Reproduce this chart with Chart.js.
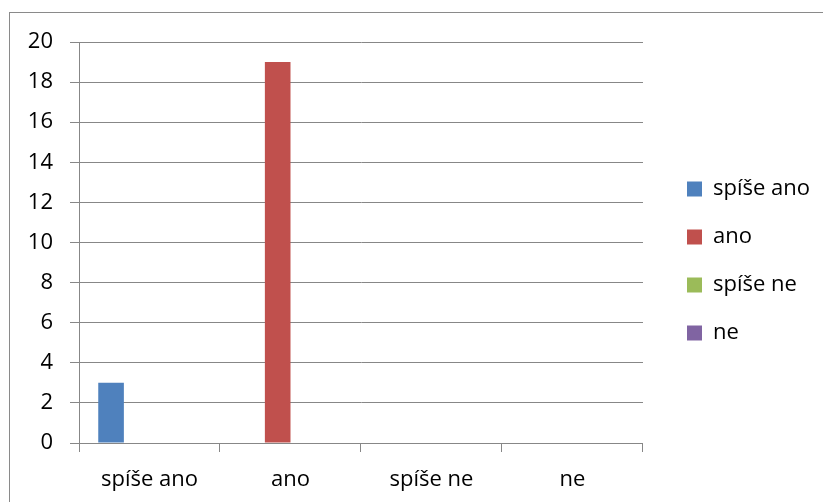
<!DOCTYPE html>
<html>
<head>
<meta charset="utf-8">
<script src="https://cdn.jsdelivr.net/npm/chart.js@4"></script>
<style>
  html, body { margin: 0; background: #fff; overflow: hidden; }
  #wrap { position: relative; width: 823px; height: 502px; overflow: hidden; }
  #frame { position: absolute; left: 9px; top: 12px; width: 900px; height: 600px;
           border-left: 1px solid #8a8a8a; border-top: 1px solid #8a8a8a; }
  canvas { position: absolute; left: 0; top: 0; }
</style>
</head>
<body>
<div id="wrap">
  <div id="frame"></div>
  <canvas id="graf" width="823" height="502"></canvas>
</div>
<script>
// kategorie a hodnoty (počet odpovědí)
const kategorie = ["spíše ano", "ano", "spíše ne", "ne"];
const spiseAno = [3, 0, 0, 0];
const ano = [0, 19, 0, 0];
const spiseNe = [0, 0, 0, 0];
const ne = [0, 0, 0, 0];
const osaY = [0, 2, 4, 6, 8, 10, 12, 14, 16, 18, 20];

const barvy = ["#4F81BD", "#C0504D", "#9BBB59", "#8064A2"];
const serie = [spiseAno, ano, spiseNe, ne];

const pismo = { family: "'Open Sans'", size: 22 };
const seda = "#878787";

function vykresli() {
  var ctx = document.getElementById("graf");
  new Chart(ctx, {
    type: "bar",
    data: {
      labels: kategorie,
      datasets: serie.map(function (hodnoty, i) {
        return {
          label: kategorie[i],
          data: hodnoty,
          backgroundColor: barvy[i],
          borderWidth: 0,
          categoryPercentage: 0.727,
          barPercentage: 1
        };
      })
    },
    options: {
      responsive: false,
      animation: false,
      layout: { padding: { top: 20, left: 0, right: 3, bottom: 0 } },
      plugins: {
        tooltip: { enabled: false },
        legend: {
          position: "right",
          maxWidth: 220,
          labels: {
            boxWidth: 15,
            boxHeight: 15,
            padding: 26,
            color: "#000",
            font: pismo
          }
        }
      },
      scales: {
        x: {
          afterFit: function (s) { s.height = 502 - 443; },
          grid: { drawOnChartArea: false, color: seda, tickLength: 9, offset: true },
          border: { color: seda },
          ticks: { color: "#000", font: pismo, padding: 15 }
        },
        y: {
          min: 0,
          max: 20,
          afterFit: function (s) { s.width = 79; },
          afterBuildTicks: function (s) {
            s.ticks = osaY.map(function (v) { return { value: v }; });
          },
          grid: { color: seda, tickLength: 9 },
          border: { color: seda },
          ticks: { color: "#000", font: pismo, padding: 17 }
        },
        // prázdné osy jen jako mezery (nahoře a před legendou)
        horni: {
          type: "category",
          position: "top",
          display: true,
          afterFit: function (s) { s.height = 22; },
          grid: { display: false },
          border: { display: false },
          ticks: { display: false }
        },
        mezera: {
          position: "right",
          display: true,
          afterFit: function (s) { s.width = 18; },
          grid: { display: false },
          border: { display: false },
          ticks: { display: false }
        }
      }
    }
  });
}

document.fonts.load("22px 'Open Sans'").then(vykresli, vykresli);
</script>
</body>
</html>
